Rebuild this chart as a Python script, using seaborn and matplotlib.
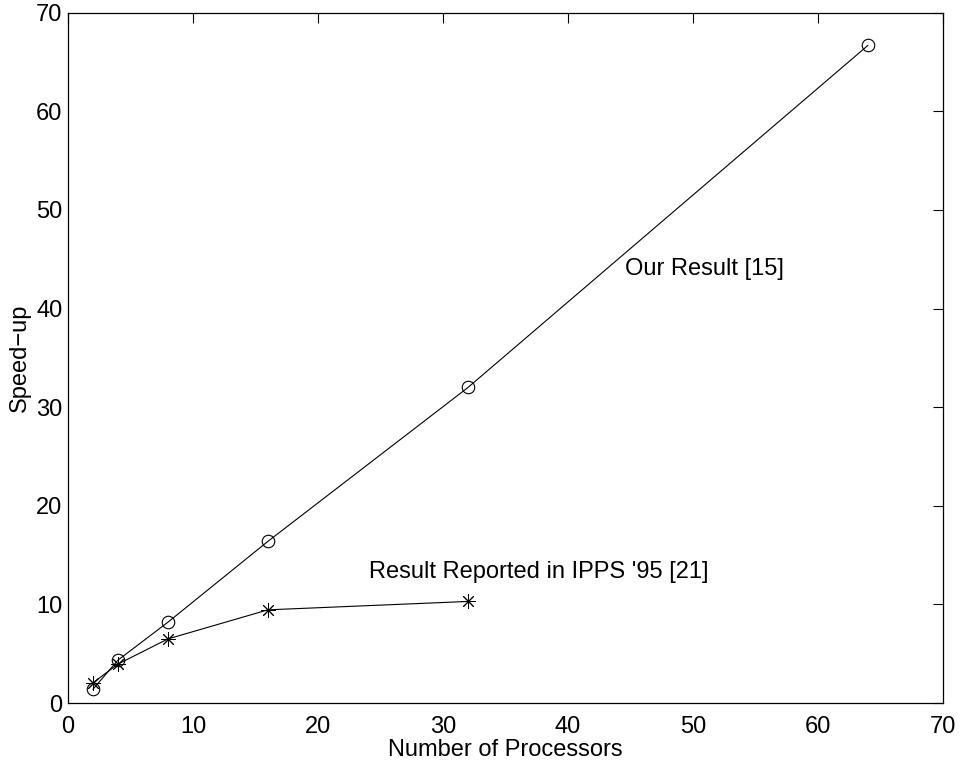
import matplotlib
matplotlib.use("Agg")
import matplotlib.pyplot as plt
import seaborn as sns
import pandas as pd

processors_ours = [2, 4, 8, 16, 32, 64]
speedup_ours = [1.4, 4.35, 8.2, 16.4, 32.0, 66.7]

processors_ipps = [2, 4, 8, 16, 32]
speedup_ipps = [2.05, 3.95, 6.5, 9.45, 10.3]

x_ticks = [0, 10, 20, 30, 40, 50, 60, 70]
y_ticks = [0, 10, 20, 30, 40, 50, 60, 70]

sns.set_theme(style="white")
plt.rcParams["font.family"] = ["Liberation Sans", "DejaVu Sans"]
plt.rcParams["text.color"] = "black"
plt.rcParams["axes.labelcolor"] = "black"

FS = 17

fig = plt.figure(figsize=(9.6, 7.61), dpi=100)
ax = fig.add_axes([0.0708, 0.0762, 0.9115, 0.907])

ours = pd.DataFrame({"p": processors_ours, "s": speedup_ours})
ipps = pd.DataFrame({"p": processors_ipps, "s": speedup_ipps})

sns.lineplot(data=ours, x="p", y="s", ax=ax, color="black", linewidth=0.8,
             marker="o", markersize=9, markerfacecolor="none",
             markeredgecolor="black", markeredgewidth=0.8)
sns.lineplot(data=ipps, x="p", y="s", ax=ax, color="black", linewidth=0.8,
             marker=(8, 2, 0), markersize=10.5, markeredgecolor="black",
             markeredgewidth=0.7)

ax.text(44.6, 44.0, "Our Result [15]", fontsize=FS, va="center", ha="left")
ax.text(24.1, 13.3, "Result Reported in IPPS '95 [21]", fontsize=FS,
        va="center", ha="left")

ax.set_xlim(0, 70)
ax.set_ylim(0, 70)
ax.set_xticks(x_ticks)
ax.set_yticks(y_ticks)
ax.set_xticklabels([str(t) for t in x_ticks])
ax.set_yticklabels([str(t) for t in y_ticks])
ax.tick_params(direction="in", length=7, width=0.8, top=True, right=True,
               labelsize=FS, colors="black")
ax.tick_params(axis="x", pad=9)
ax.tick_params(axis="y", pad=4)
ax.set_xlabel("Number of Processors", fontsize=FS, labelpad=1)
ax.set_ylabel("Speed\u2212up", fontsize=FS, labelpad=4)
for s in ax.spines.values():
    s.set_color("black")
    s.set_linewidth(0.9)
ax.grid(False)

fig.savefig("out.png", dpi=100)
